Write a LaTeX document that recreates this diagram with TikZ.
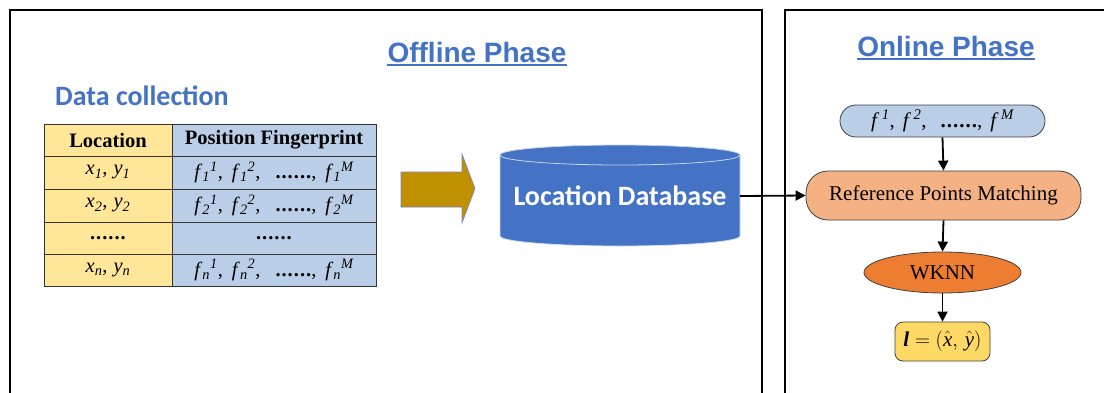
\documentclass[tikz,border=0pt]{standalone}
\usepackage{amsmath}
\usepackage{fontspec}
\setmainfont{Liberation Serif}
\newfontfamily\headfont{Liberation Sans}
\newfontfamily\calfont{Carlito}
\usetikzlibrary{arrows.meta,shapes.geometric}

\definecolor{phaseblue}{RGB}{68,114,196}
\definecolor{locyellow}{RGB}{255,230,153}
\definecolor{fpblue}{RGB}{186,206,232}
\definecolor{dbblue}{RGB}{68,114,196}
\definecolor{arrowgold}{RGB}{191,144,0}
\definecolor{rpmorange}{RGB}{244,177,131}
\definecolor{wknnorange}{RGB}{237,125,49}
\definecolor{resyellow}{RGB}{255,217,102}

% fingerprint entry: f, subscript, then superscript
\newcommand{\fpr}[2]{\textit{f}$_{\textit{#1}}$$^{\textit{#2}}$}
% online fingerprint entry: f with superscript only
\newcommand{\fon}[1]{\textit{f}$^{\,\textit{#1}}$}
% bold ellipsis dots
\newcommand{\fdots}{\textbf{.\kern1pt.\kern1pt.\kern1pt.\kern1pt.\kern1pt.}}
% coordinate pair with subscripts
\newcommand{\xy}[1]{\textit{x}$_{\textit{#1}}$,\hspace{6pt}\textit{y}$_{\textit{#1}}$}
% one table row of fingerprints
\newcommand{\fprow}[1]{\fpr{#1}{1},\hspace{9pt}\fpr{#1}{2},\hspace{15pt}\fdots,\hspace{9pt}\fpr{#1}{M}}

\tikzset{
  phasebox/.style={draw=black, line width=1.3pt},
  phasetitle/.style={font=\headfont\bfseries\fontsize{28}{32}\selectfont, text=phaseblue, inner sep=0pt, anchor=base},
  cell/.style={draw=black!80, line width=0.9pt, inner sep=0pt, minimum height=32pt,
    font=\fontsize{20.5}{24}\selectfont},
  loccell/.style={cell, fill=locyellow, minimum width=128pt},
  fpcell/.style={cell, fill=fpblue, minimum width=204pt},
  flowbox/.style={draw=black!75, line width=0.8pt, inner sep=0pt, font=\fontsize{21}{24}\selectfont},
  conn/.style={-{Triangle[length=10pt,width=10pt]}, line width=1.8pt},
}

\begin{document}
\begin{tikzpicture}[x=1pt,y=-1pt]
\useasboundingbox (0,0) rectangle (1104,392);
\clip (0,0) rectangle (1104,392);

% phase frames (cut off at the page edge)
\draw[phasebox] (10,400) -- (10,10) -- (762,10) -- (762,400);
\draw[phasebox] (785,400) -- (785,10) -- (1110,10);

% titles
\node[phasetitle] (offt) at (477,62) {Offline Phase};
\draw[phaseblue, line width=1.5pt] ([yshift=-3pt]offt.base west) -- ([yshift=-3pt]offt.base east);
\node[phasetitle] (ont) at (946,56) {Online Phase};
\draw[phaseblue, line width=1.5pt] ([yshift=-3pt]ont.base west) -- ([yshift=-3pt]ont.base east);

\node[font=\calfont\bfseries\fontsize{28}{30}\selectfont, text=phaseblue, anchor=base west, inner sep=0pt]
  (dc) at (55,105) {Data collection};

% fingerprint table
\node[loccell, minimum height=32pt] (h1) at (108,140) {\textbf{Location}};
\node[fpcell, minimum height=32pt] (h2) at (274,140) {\textbf{Position Fingerprint}};
\node[loccell, minimum height=33pt] (a1) at (108,172.5) {\xy{1}};
\node[fpcell, minimum height=33pt] (a2) at (274,172.5) {\fprow{1}};
\node[loccell, minimum height=33pt] (b1) at (108,205.5) {\xy{2}};
\node[fpcell, minimum height=33pt] (b2) at (274,205.5) {\fprow{2}};
\node[loccell, minimum height=32pt] (c1) at (108,238) {\fdots};
\node[fpcell, minimum height=32pt] (c2) at (274,238) {\fdots};
\node[loccell, minimum height=32pt] (d1) at (108,270) {\xy{n}};
\node[fpcell, minimum height=32pt] (d2) at (274,270) {\fprow{n}};

% block arrow
\draw[fill=arrowgold, draw=black!40!blue!50, line width=0.6pt]
  (401,172) -- (462,172) -- (462,154) -- (475,188.5) -- (462,223) -- (462,207) -- (401,207) -- cycle;

% location database cylinder
\draw[fill=dbblue, draw=white!75!dbblue, line width=0.8pt]
  (500,155) -- (500,236) arc[start angle=180, end angle=360, x radius=120pt, y radius=10pt] -- (740,155);
\draw[fill=dbblue, draw=white!70!dbblue, line width=0.8pt] (620,155) ellipse[x radius=120pt, y radius=10pt];
\node[inner sep=0pt, minimum width=240pt, minimum height=20pt, text=white,
  font=\calfont\bfseries\fontsize{28}{30}\selectfont] (db) at (620,196) {Location Database};

% online flow
\node[flowbox, fill=fpblue, rounded corners=16pt, minimum width=205pt, minimum height=32pt] (fin) at (942.5,121)
  {\fon{1},\hspace{8pt}\fon{2},\hspace{14pt}\fdots,\hspace{8pt}\fon{M}};
\node[flowbox, fill=rpmorange, rounded corners=22pt, minimum width=275pt, minimum height=49pt] (rpm) at (943.5,195.5)
  {Reference Points Matching};
\node[flowbox, ellipse, fill=wknnorange, minimum width=157pt, minimum height=41pt] (wknn) at (942.5,272.5) {WKNN};
\node[flowbox, fill=resyellow, rounded corners=8pt, minimum width=95pt, minimum height=39pt] (res) at (942.5,341.5)
  {$\textbf{\textit{l}} = (\hat{\textit{x}},\, \hat{\textit{y}})$};

\draw[conn] (db.east) -- (rpm.west);
\draw[conn] (fin.south) -- (rpm.north);
\draw[conn] (rpm.south) -- (wknn.north);
\draw[conn] (wknn.south) -- (res.north);
\end{tikzpicture}
\end{document}
